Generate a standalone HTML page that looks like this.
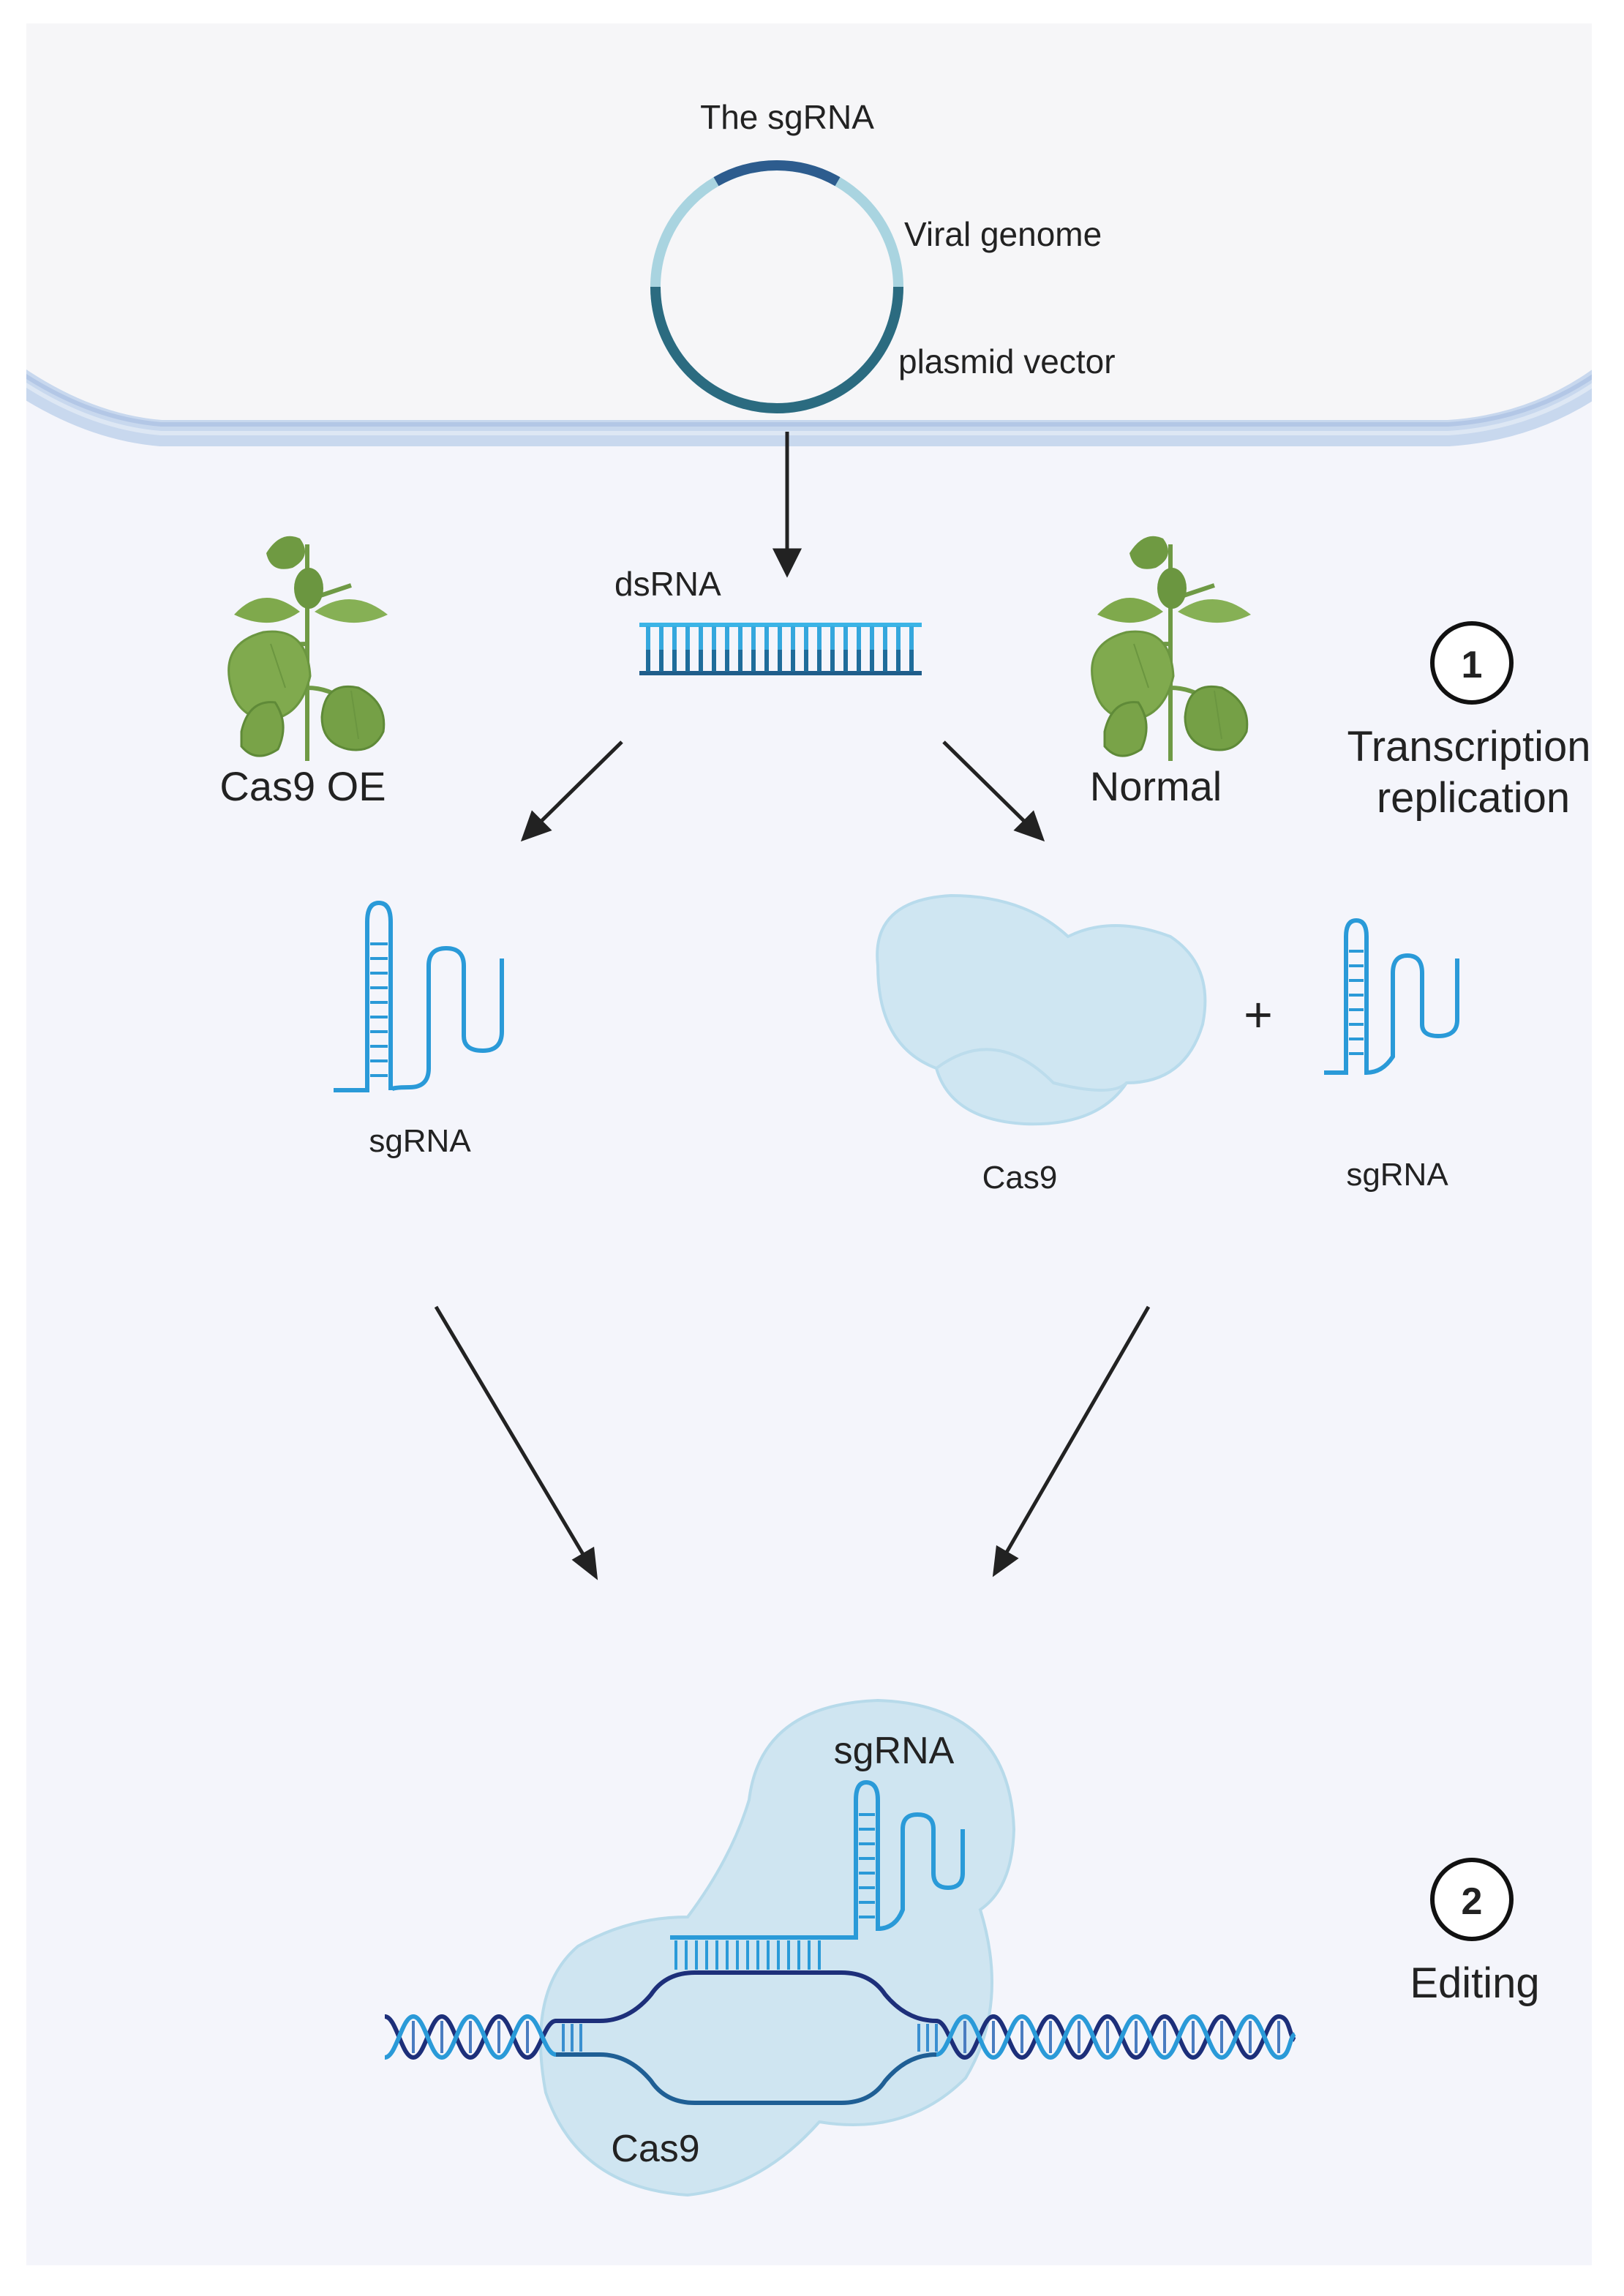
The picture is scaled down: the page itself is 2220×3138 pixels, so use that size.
<!DOCTYPE html>
<html><head><meta charset="utf-8"><style>
html,body{margin:0;padding:0;background:#fff}
svg{display:block}
text{font-family:"Liberation Sans",sans-serif;fill:#222}
</style></head><body>
<svg width="2220" height="3138" viewBox="0 0 1110 1569" xmlns="http://www.w3.org/2000/svg">
<defs>
<clipPath id="panel"><rect x="18" y="16" width="1070" height="1532"/></clipPath>
</defs>
<rect x="0" y="0" width="1110" height="1569" fill="#fff"/>
<rect x="18" y="16" width="1070" height="1532" fill="#f4f5fb"/>
<g clip-path="url(#panel)">
<path d="M18,16 H1088 V255 Q1050,285 990,288 H110 Q60,285 18,255 Z" fill="#f6f6f8"/>
<path d="M10,258 Q60,292 110,296 H990 Q1050,292 1096,258" fill="none" stroke="#c8d8ee" stroke-width="18"/>
<path d="M10,252 Q60,286 110,290 H990 Q1050,286 1096,252" fill="none" stroke="#b3c7e6" stroke-width="3"/>
<path d="M10,258 Q60,292 110,296 H990 Q1050,292 1096,258" fill="none" stroke="#dde7f4" stroke-width="3"/>
</g>
<!-- plasmid -->
<circle cx="531" cy="196" r="83" fill="none" stroke="#a9d4e0" stroke-width="7"/>
<path d="M448,196 A83,83 0 0 0 614,196" fill="none" stroke="#2b6b80" stroke-width="7"/>
<path d="M489.5,124.1 A83,83 0 0 1 572.5,124.1" fill="none" stroke="#2d5c8e" stroke-width="7"/>
<text x="538" y="88" font-size="23" text-anchor="middle">The sgRNA</text>
<text x="618" y="168" font-size="23">Viral genome</text>
<text x="614" y="255" font-size="23">plasmid vector</text>
<!-- arrows -->
<g stroke="#222" stroke-width="2.5" fill="#222">
<line x1="538" y1="295" x2="538" y2="380"/>
<path d="M530,376 L538,392 L546,376 Z"/>
<line x1="425" y1="507" x2="364" y2="567"/>
<path d="M358,573 L364,556 L375,567 Z" />
<line x1="645" y1="507" x2="706" y2="567"/>
<path d="M712,573 L695,567 L706,556 Z"/>
<line x1="298" y1="893" x2="402" y2="1068"/>
<path d="M407,1077 L393,1066 L405,1059 Z"/>
<line x1="785" y1="893" x2="685" y2="1066"/>
<path d="M680,1075 L682,1058 L694,1065 Z"/>
</g>
<!-- dsRNA -->
<text x="420" y="407" font-size="23">dsRNA</text>
<line x1="437" y1="427" x2="630" y2="427" stroke="#3bb4e6" stroke-width="3"/>
<line x1="437" y1="460" x2="630" y2="460" stroke="#1f5d8a" stroke-width="3"/>
<g stroke-width="3">
<path d="M443,428V444M452,428V444M461,428V444M470,428V444M479,428V444M488,428V444M497,428V444M506,428V444M515,428V444M524,428V444M533,428V444M542,428V444M551,428V444M560,428V444M569,428V444M578,428V444M587,428V444M596,428V444M605,428V444M614,428V444M623,428V444" stroke="#35a7dd"/>
<path d="M443,444V459M452,444V459M461,444V459M470,444V459M479,444V459M488,444V459M497,444V459M506,444V459M515,444V459M524,444V459M533,444V459M542,444V459M551,444V459M560,444V459M569,444V459M578,444V459M587,444V459M596,444V459M605,444V459M614,444V459M623,444V459" stroke="#1f6c9a"/>
</g>
<!-- plants -->
<g id="plant">
<path d="M210,372 V520 M210,470 Q225,470 238,480 M210,440 Q195,440 185,445 M210,410 Q225,405 240,400" stroke="#6f9a45" stroke-width="3" fill="none"/>
<path d="M182,378 Q192,362 205,368 Q214,380 200,388 Q185,392 182,378 Z" fill="#6f9a42"/>
<ellipse cx="211" cy="402" rx="10" ry="14" fill="#6b9640"/>
<path d="M160,420 Q180,398 205,418 Q185,432 160,420 Z" fill="#7fa94c"/>
<path d="M215,418 Q240,400 265,420 Q240,432 215,418 Z" fill="#86b055"/>
<path d="M158,470 Q150,440 180,432 Q210,428 212,462 Q205,492 180,492 Q162,488 158,470 Z" fill="#80aa4e" stroke="#6b9640" stroke-width="1.5"/>
<path d="M220,490 Q222,465 245,470 Q265,480 262,500 Q255,515 238,512 Q220,508 220,490 Z" fill="#75a046" stroke="#5f8a38" stroke-width="1.5"/>
<path d="M165,500 Q170,478 188,480 Q198,495 190,512 Q175,522 165,510 Z" fill="#79a348" stroke="#5f8a38" stroke-width="1.5"/>
<path d="M185,440 L195,470 M240,472 L245,505" stroke="#6b9640" stroke-width="1" fill="none"/>
</g>
<use href="#plant" transform="translate(590,0)"/>
<text x="207" y="547" font-size="28" text-anchor="middle">Cas9 OE</text>
<text x="790" y="547" font-size="28" text-anchor="middle">Normal</text>
<!-- step 1 -->
<circle cx="1006" cy="453" r="27" fill="#fff" stroke="#111" stroke-width="3"/>
<text x="1006" y="463" font-size="26" font-weight="bold" text-anchor="middle">1</text>
<text x="1004" y="520" font-size="29" text-anchor="middle">Transcription</text>
<text x="1007" y="555" font-size="29" text-anchor="middle">replication</text>
<!-- left sgRNA -->
<g fill="none" stroke="#2a9ad8" stroke-width="3">
<path d="M228,745 H251 V630 Q251,617 259,617 Q267,617 267,630 V745 Q267,743 280,743 Q293,743 293,730 V660 Q293,648 305,648 Q317,648 317,660 V708 Q317,718 330,718 Q343,718 343,705 V655"/>
<path d="M253,645H265M253,655H265M253,665H265M253,675H265M253,685H265M253,695H265M253,705H265M253,715H265M253,725H265M253,735H265" stroke-width="2"/>
</g>
<text x="287" y="787" font-size="22" text-anchor="middle">sgRNA</text>
<!-- Cas9 blob -->
<path d="M600,660 Q595,615 650,612 Q700,612 730,640 Q760,625 800,640 Q830,660 822,700 Q810,740 770,740 Q750,770 700,768 Q650,765 640,730 Q600,715 600,660 Z" fill="#cfe6f2" stroke="#b8dbec" stroke-width="2"/>
<path d="M640,730 Q680,700 720,740 Q760,750 770,740" fill="none" stroke="#bcdcec" stroke-width="2"/>
<text x="697" y="812" font-size="22" text-anchor="middle">Cas9</text>
<text x="860" y="705" font-size="34" text-anchor="middle">+</text>
<g fill="none" stroke="#2a9ad8" stroke-width="3">
<path d="M905,733 H920 V640 Q920,629 927,629 Q934,629 934,640 V733 Q945,733 952,722 V665 Q952,653 962,653 Q972,653 972,665 V700 Q972,708 983,708 Q996,708 996,697 V655"/>
<path d="M922,650H932M922,660H932M922,670H932M922,680H932M922,690H932M922,700H932M922,710H932M922,720H932" stroke-width="2"/>
</g>
<text x="955" y="810" font-size="22" text-anchor="middle">sgRNA</text>
<!-- bottom complex -->
<path d="M512,1230 Q520,1165 600,1162 Q690,1165 693,1250 Q692,1290 670,1305 Q690,1370 660,1420 Q620,1460 560,1450 Q520,1495 470,1500 Q395,1495 373,1430 Q360,1360 395,1330 Q430,1310 470,1310 Q500,1270 512,1230 Z" fill="#cfe5f1" stroke="#b7daea" stroke-width="2"/>
<text x="611" y="1205" font-size="26" text-anchor="middle">sgRNA</text>
<text x="448" y="1477" font-size="26" text-anchor="middle">Cas9</text>
<g fill="none" stroke="#2a9ad8" stroke-width="3">
<path d="M458,1324 H585 V1230 Q585,1218 592,1218 Q600,1218 600,1230 V1318 Q612,1318 617,1305 V1250 Q617,1240 627,1240 Q638,1240 638,1250 V1280 Q638,1290 648,1290 Q658,1290 658,1280 V1250"/>
<path d="M587,1240H598M587,1250H598M587,1260H598M587,1270H598M587,1280H598M587,1290H598M587,1300H598M587,1310H598" stroke-width="2"/>
<path d="M462,1326V1346M469,1326V1346M476,1326V1346M483,1326V1346M490,1326V1346M497,1326V1346M504,1326V1346M511,1326V1346M518,1326V1346M525,1326V1346M532,1326V1346M539,1326V1346M546,1326V1346M553,1326V1346M560,1326V1346" stroke-width="2"/>
</g>
<path d="M380,1381 H410 Q430,1381 445,1363 Q455,1348 475,1348 H575 Q595,1348 605,1363 Q620,1381 640,1381" fill="none" stroke="#1d2f7a" stroke-width="3"/>
<path d="M380,1404 H410 Q430,1404 445,1422 Q455,1437 475,1437 H575 Q595,1437 605,1422 Q620,1404 640,1404" fill="none" stroke="#1f5f95" stroke-width="3"/>
<g fill="none" stroke-width="2">
<path d="M385,1383V1402M391,1383V1402M397,1383V1402M628,1383V1402M634,1383V1402M640,1383V1402" stroke="#3a8fd0"/>
<path d="M282.5,1381V1403M302,1381V1403M321.5,1381V1403M341,1381V1403M360.5,1381V1403M659.5,1381V1403M679,1381V1403M698.5,1381V1403M718,1381V1403M737.5,1381V1403M757,1381V1403M776.5,1381V1403M796,1381V1403M815.5,1381V1403M835,1381V1403M854.5,1381V1403M874,1381V1403" stroke="#4a7cc0"/>
</g>
<g fill="none" stroke-width="3">
<path d="M263,1378 C271,1378 274.5,1406 282.5,1406 S294,1378 302,1378 S313.5,1406 321.5,1406 S333,1378 341,1378 S352.5,1406 360.5,1406 S372,1381 380,1381" stroke="#1d2f7a"/>
<path d="M263,1406 C271,1406 274.5,1378 282.5,1378 S294,1406 302,1406 S313.5,1378 321.5,1378 S333,1406 341,1406 S352.5,1378 360.5,1378 S372,1404 380,1404" stroke="#2a9ad8"/>
<path d="M640,1381 C648,1381 651.5,1406 659.5,1406 S671,1378 679,1378 S690.5,1406 698.5,1406 S710,1378 718,1378 S729.5,1406 737.5,1406 S749,1378 757,1378 S768.5,1406 776.5,1406 S788,1378 796,1378 S807.5,1406 815.5,1406 S827,1378 835,1378 S846.5,1406 854.5,1406 S866,1378 874,1378 S881,1392 885,1394" stroke="#1d2f7a"/>
<path d="M640,1404 C648,1404 651.5,1378 659.5,1378 S671,1406 679,1406 S690.5,1378 698.5,1378 S710,1406 718,1406 S729.5,1378 737.5,1378 S749,1406 757,1406 S768.5,1378 776.5,1378 S788,1406 796,1406 S807.5,1378 815.5,1378 S827,1406 835,1406 S846.5,1378 854.5,1378 S866,1406 874,1406 S881,1392 885,1390" stroke="#2a9ad8"/>
</g>
<!-- step 2 -->
<circle cx="1006" cy="1298" r="27" fill="#fff" stroke="#111" stroke-width="3"/>
<text x="1006" y="1308" font-size="26" font-weight="bold" text-anchor="middle">2</text>
<text x="1008" y="1365" font-size="29" text-anchor="middle">Editing</text>
</svg>
</body></html>
